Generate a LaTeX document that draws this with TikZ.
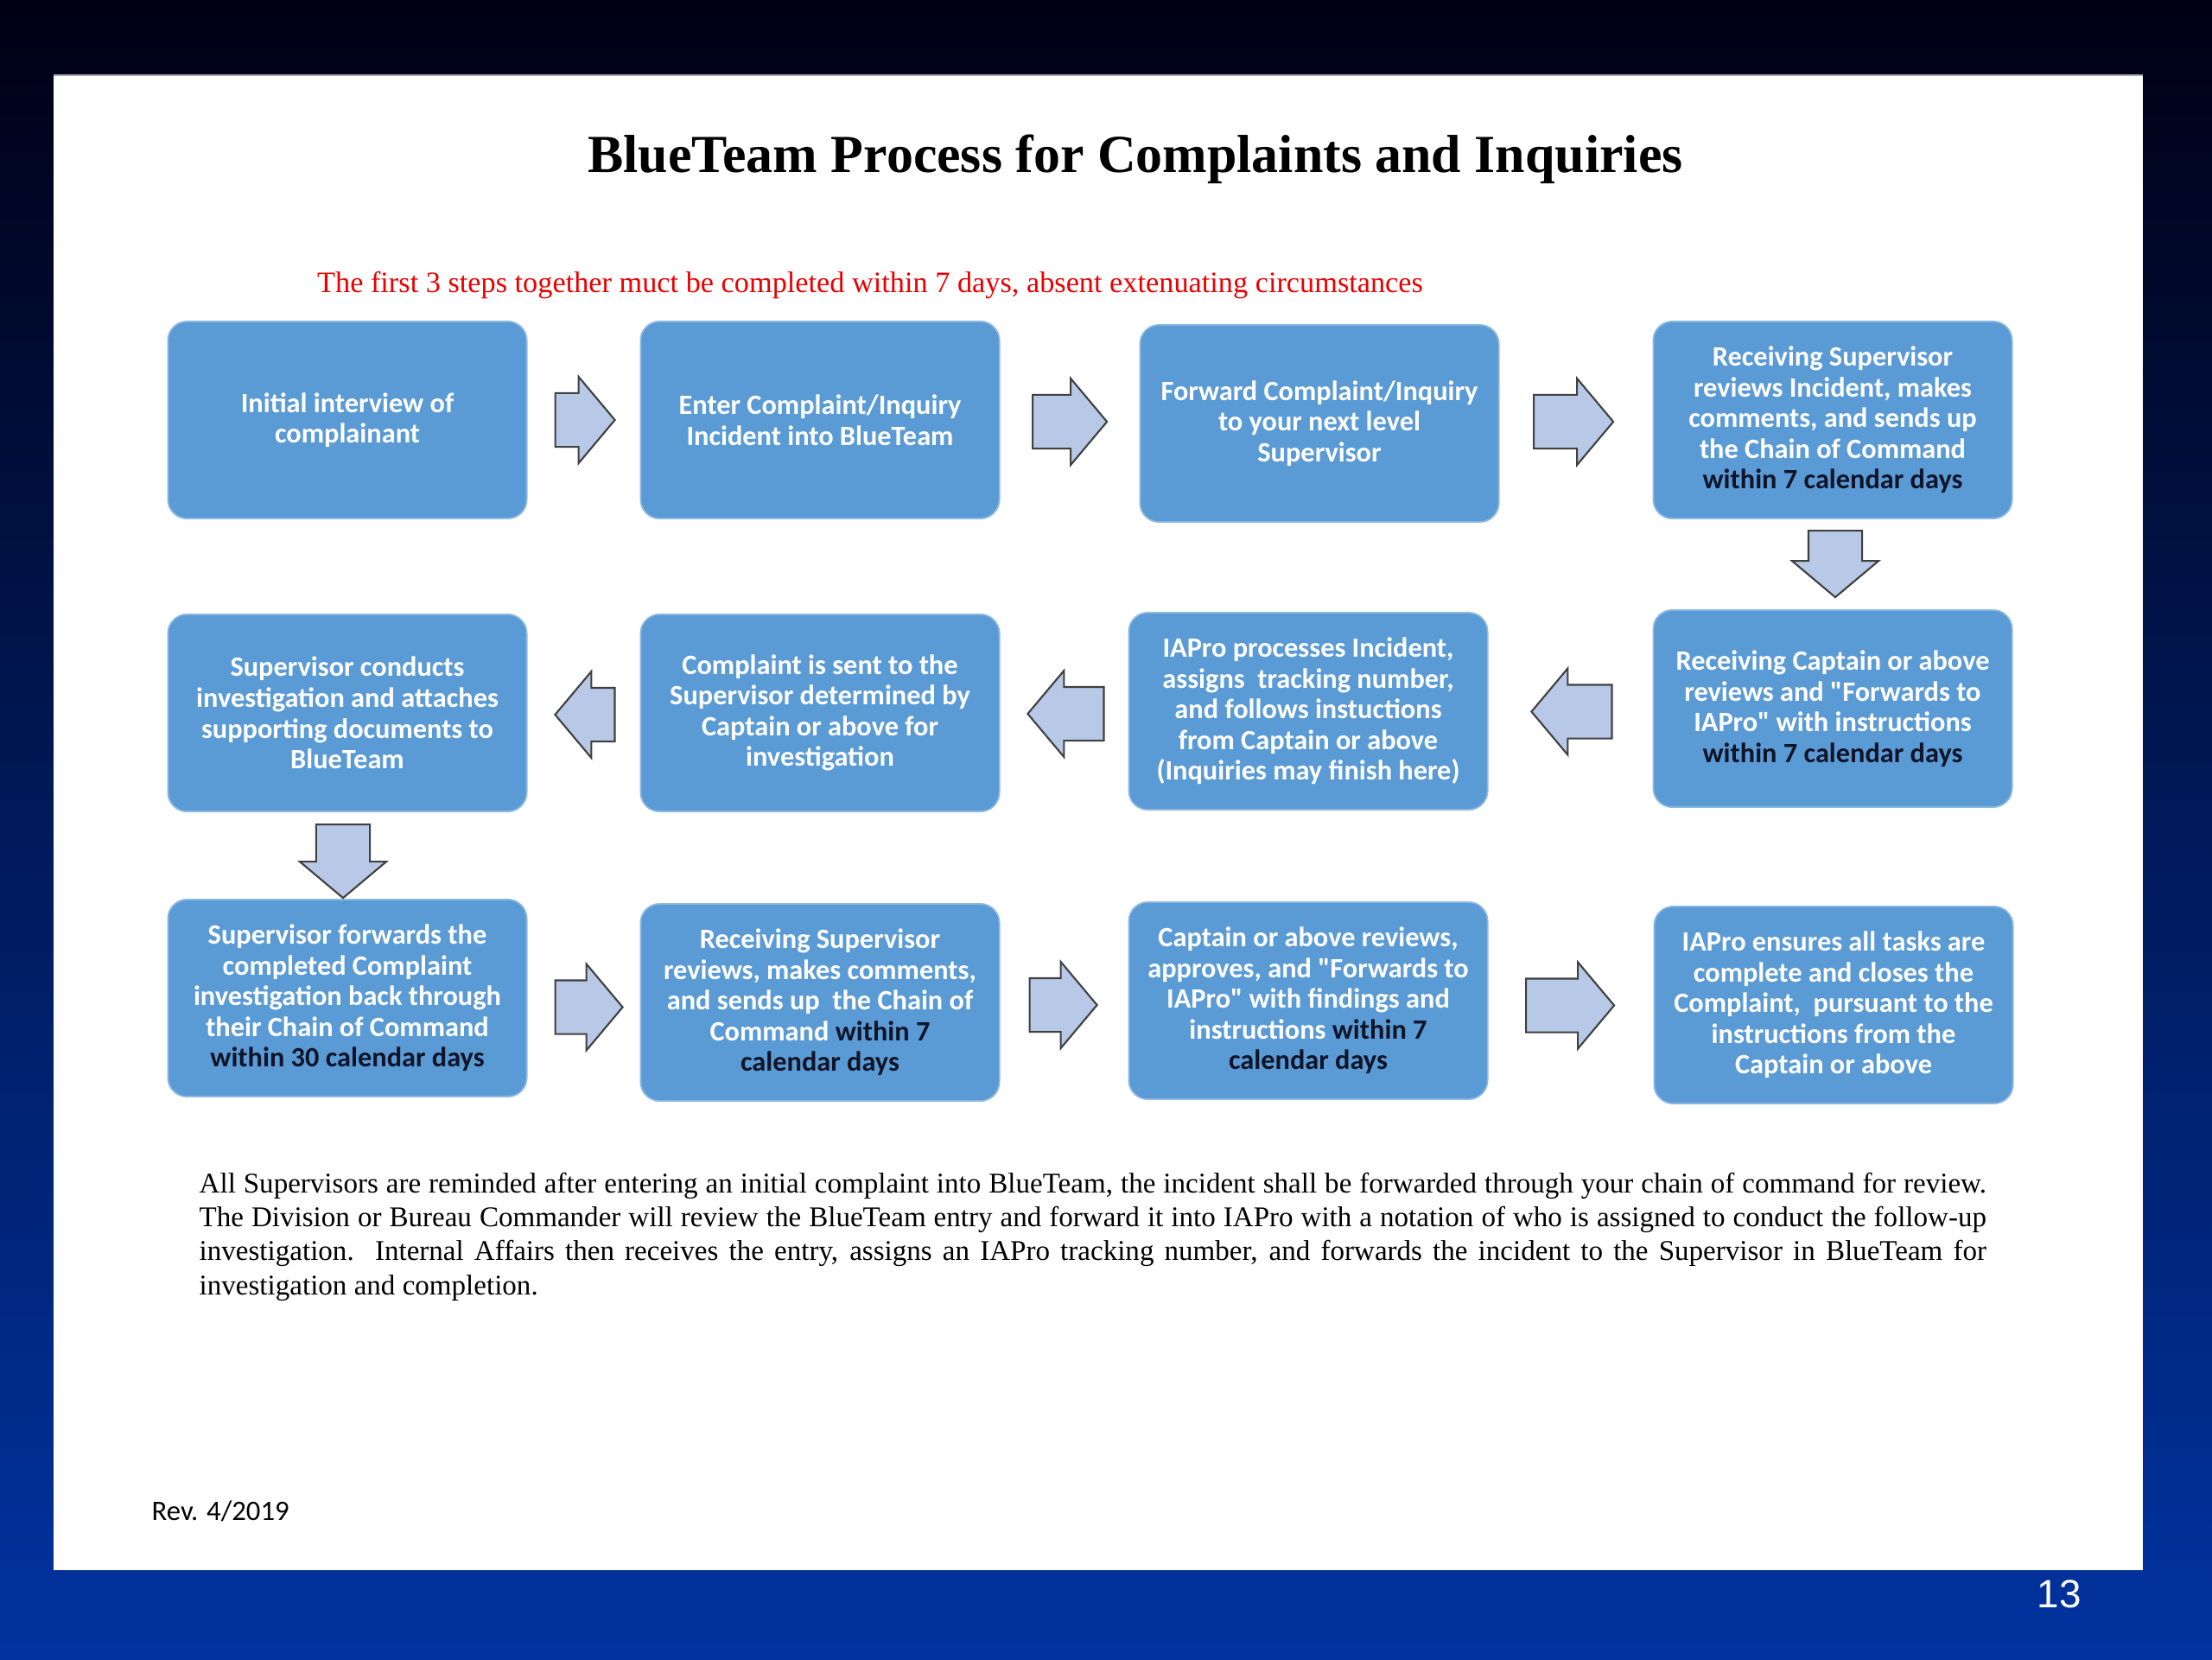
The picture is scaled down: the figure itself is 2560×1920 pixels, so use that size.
\documentclass[tikz,border=0pt]{standalone}
\usepackage{fontspec}
\setmainfont{Liberation Serif}
\newfontfamily\calibri{Carlito}
\newfontfamily\arial{Liberation Sans}
\usepackage{tikz}
\usetikzlibrary{calc,shapes.arrows}
\definecolor{SlideTop}{RGB}{0,0,20}
\definecolor{SlideMid}{RGB}{0,36,125}
\definecolor{SlideBlue}{RGB}{0,51,160}
\definecolor{BoxBlue}{RGB}{91,155,213}
\definecolor{ArrowFill}{RGB}{183,201,230}
\definecolor{ArrowEdge}{RGB}{64,64,64}
\definecolor{NoteRed}{RGB}{235,0,0}
\definecolor{DayInk}{RGB}{15,20,40}
\newcommand{\days}[1]{\textcolor{DayInk}{#1}}

\begin{document}
\begin{tikzpicture}[x=0.01cm,y=-0.01cm,
  stepbox/.style={rectangle,rounded corners=0.22cm,fill=BoxBlue,draw=BoxBlue!70!white,line width=0.5pt,
    minimum width=4.15cm,minimum height=2.28cm,inner sep=0pt,align=center,text=white,
    font=\calibri\bfseries\fontsize{9.2}{10.1}\selectfont},
  barrow/.style={single arrow,draw=ArrowEdge,fill=ArrowFill,line width=0.6pt,inner sep=0pt,
    single arrow head extend=0.19cm,single arrow tip angle=100,single arrow head indent=0pt,
    minimum height=#1,anchor=tail}]
  \useasboundingbox (0,0) rectangle (2560,1920);
  % slide background and white page
  \shade[top color=SlideTop,middle color=SlideMid,bottom color=SlideBlue] (0,0) rectangle (2560,1920);
  \fill[white] (62,87) rectangle (2480,1817);
  \draw[gray!70,line width=0.6pt] (62,87) -- (2480,87);

  \node[font=\bfseries\fontsize{17.6}{20}\selectfont] (title) at (1314,184) {BlueTeam Process for Complaints and Inquiries};
  \node[text=NoteRed,font=\fontsize{9.75}{11}\selectfont] (note) at (1007,330)
    {The first 3 steps together muct be completed within 7 days, absent extenuating circumstances};

  % row 1
  \node[stepbox] (b1) at (402,486) {Initial interview of\\complainant};
  \node[stepbox] (b2) at (949,486) {Enter Complaint/Inquiry\\Incident into BlueTeam};
  \node[stepbox] (b3) at (1527,490) {Forward Complaint/Inquiry\\to your next level\\Supervisor};
  \node[stepbox] (b4) at (2121,486) {Receiving Supervisor\\reviews Incident, makes\\comments, and sends up\\the Chain of Command\\\days{within 7 calendar days}};
  % row 2
  \node[stepbox] (b5) at (402,825) {Supervisor conducts\\investigation and attaches\\supporting documents to\\BlueTeam};
  \node[stepbox] (b6) at (949,825) {Complaint is sent to the\\Supervisor determined by\\Captain or above for\\investigation};
  \node[stepbox] (b7) at (1514,823) {IAPro processes Incident,\\assigns\ \ tracking number,\\and follows instuctions\\from Captain or above\\(Inquiries may finish here)};
  \node[stepbox] (b8) at (2121,820) {Receiving Captain or above\\reviews and "Forwards to\\IAPro" with instructions\\\days{within 7 calendar days}};
  % row 3
  \node[stepbox] (b9) at (402,1155) {Supervisor forwards the\\completed Complaint\\investigation back through\\their Chain of Command\\\days{within 30 calendar days}};
  \node[stepbox] (b10) at (949,1160) {Receiving Supervisor\\reviews, makes comments,\\and sends up\ \ the Chain of\\Command \days{within 7}\\\days{calendar days}};
  \node[stepbox] (b11) at (1514,1158) {Captain or above reviews,\\approves, and "Forwards to\\IAPro" with findings and\\instructions \days{within 7}\\\days{calendar days}};
  \node[stepbox] (b12) at (2122,1163) {IAPro ensures all tasks are\\complete and closes the\\Complaint,\ \ pursuant to the\\instructions from the\\Captain or above};

  % block arrows, tail placed half a length before the gap's middle
  \node[barrow=0.69cm] (a12) at ($(b1.east)!0.5!(b2.west)+(-34,0)$) {\rule{0pt}{0.6cm}};
  \node[barrow=0.86cm] (a23) at ($(b2.east)!0.5!(b3.west)+(-44,0)$) {\rule{0pt}{0.6cm}};
  \node[barrow=0.92cm] (a34) at ($(b3.east)!0.5!(b4.west)+(-50,0)$) {\rule{0pt}{0.6cm}};
  \node[barrow=0.77cm,rotate=-90] (a48) at ($(b4.south)!0.5!(b8.north)+(3,-40)$) {\rule{0pt}{0.6cm}};
  \node[barrow=0.93cm,rotate=180] (a87) at ($(b8.west)!0.5!(b7.east)+(49,2)$) {\rule{0pt}{0.6cm}};
  \node[barrow=0.88cm,rotate=180] (a76) at ($(b7.west)!0.5!(b6.east)+(47,2)$) {\rule{0pt}{0.6cm}};
  \node[barrow=0.69cm,rotate=180] (a65) at ($(b6.west)!0.5!(b5.east)+(37,2)$) {\rule{0pt}{0.6cm}};
  \node[barrow=0.85cm,rotate=-90] (a59) at ($(b5.south)!0.5!(b9.north)+(-5,-37)$) {\rule{0pt}{0.6cm}};
  \node[barrow=0.78cm] (a910) at ($(b9.east)!0.5!(b10.west)+(-34,8)$) {\rule{0pt}{0.6cm}};
  \node[barrow=0.78cm] (a1011) at ($(b10.east)!0.5!(b11.west)+(-41,4)$) {\rule{0pt}{0.6cm}};
  \node[barrow=1.02cm] (a1112) at ($(b11.east)!0.5!(b12.west)+(-53,3)$) {\rule{0pt}{0.6cm}};

  \node[anchor=base west,text width=20.67cm,align=justify,inner sep=0pt,font=\fontsize{9.4}{11.2}\selectfont] (remind) at (230,1380)
    {All Supervisors are reminded after entering an initial complaint into BlueTeam, the incident shall be forwarded through your chain of command for review.\linebreak
     The Division or Bureau Commander will review the BlueTeam entry and forward it into IAPro with a notation of who is assigned to conduct the follow-up\linebreak
     investigation.\ \ Internal Affairs then receives the entry, assigns an IAPro tracking number, and forwards the incident to the Supervisor in BlueTeam for\linebreak
     investigation and completion.};
  \node[anchor=west,inner sep=0pt,font=\calibri\fontsize{9.3}{10}\selectfont] (rev) at (175,1749) {Rev. 4/2019};
  \node[text=white,font=\arial\fontsize{13}{15}\selectfont] (page) at (2383,1845) {13};
\end{tikzpicture}
\end{document}
